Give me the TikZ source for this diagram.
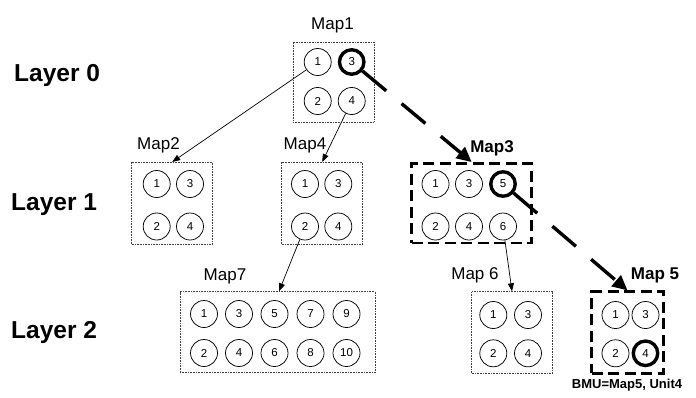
\documentclass[tikz,border=0pt]{standalone}
\usepackage{fontspec}
\setmainfont{Liberation Sans}
\usetikzlibrary{arrows.meta}
\begin{document}
\begin{tikzpicture}[x=1pt,y=-1pt,
  unit/.style={circle,draw,line width=0.75pt,minimum size=27pt,inner sep=0pt,font=\fontsize{11.5}{13}\selectfont},
  bmu/.style={unit,line width=3.4pt,minimum size=24.5pt},
  mapbox/.style={draw=black!75,line width=0.8pt,dash pattern=on 0.8pt off 0.8pt,inner sep=0pt},
  winbox/.style={draw,line width=2.6pt,dash pattern=on 11pt off 5.5pt,inner sep=0pt},
  maplabel/.style={font=\fontsize{17}{19}\selectfont,inner sep=0pt},
  winlabel/.style={font=\bfseries\fontsize{17}{19}\selectfont,inner sep=0pt},
  layerlabel/.style={font=\bfseries\fontsize{24.5}{27}\selectfont,anchor=west,inner sep=0pt},
  link/.style={line width=0.7pt,-{Triangle[length=8pt,width=6pt]}},
  winpath/.style={line width=3.4pt,dash pattern=on 31pt off 20pt,-{Triangle[length=15pt,width=14pt]}}
]
\useasboundingbox (0,0) rectangle (696,397);

% layer labels
\node[layerlabel] (l0) at (14,75) {Layer 0};
\node[layerlabel] (l1) at (11,205) {Layer 1};
\node[layerlabel] (l2) at (11,332) {Layer 2};

% Map1
\node[mapbox,minimum width=81pt,minimum height=80pt] (m1) at (333.5,82) {};
\node[maplabel] (m1l) at (332.5,25) {Map1};
\node[unit] (m1c1) at (317.7,62) {1};
\node[bmu]  (m1c3) at (351.7,62) {3};
\node[unit] (m1c2) at (317.7,101) {2};
\node[unit] (m1c4) at (351.7,101) {4};

% Map2
\node[mapbox,minimum width=81pt,minimum height=81.7pt] (m2) at (172.2,203.2) {};
\node[maplabel] (m2l) at (158.5,145) {Map2};
\node[unit] (m2c1) at (156.7,184) {1};
\node[unit] (m2c3) at (190,184) {3};
\node[unit] (m2c2) at (156.7,226.5) {2};
\node[unit] (m2c4) at (190,226.5) {4};

% Map4
\node[mapbox,minimum width=81pt,minimum height=81.7pt] (m4) at (322.2,203.2) {};
\node[maplabel] (m4l) at (305,145) {Map4};
\node[unit] (m4c1) at (305,184) {1};
\node[unit] (m4c3) at (338.3,184) {3};
\node[unit] (m4c2) at (305,226.5) {2};
\node[unit] (m4c4) at (338.3,226.5) {4};

% Map3
\node[winbox,minimum width=120pt,minimum height=79.7pt] (m3) at (471.7,203.2) {};
\node[winlabel] (m3l) at (492,148) {Map3};
\node[unit] (m3c1) at (435.5,184) {1};
\node[unit] (m3c3) at (469,184) {3};
\node[bmu]  (m3c5) at (503,184) {5};
\node[unit] (m3c2) at (435.5,226.5) {2};
\node[unit] (m3c4) at (469,226.5) {4};
\node[unit] (m3c6) at (503,226.5) {6};

% Map7
\node[mapbox,minimum width=195pt,minimum height=81pt] (m7) at (277.5,332.2) {};
\node[maplabel] (m7l) at (225,276.7) {Map7};
\node[unit] (m7c1) at (204,314) {1};
\node[unit] (m7c3) at (239,314) {3};
\node[unit] (m7c5) at (274.5,314) {5};
\node[unit] (m7c7) at (310.5,314) {7};
\node[unit] (m7c9) at (346.5,314) {9};
\node[unit] (m7c2) at (204,353) {2};
\node[unit] (m7c4) at (239,353) {4};
\node[unit] (m7c6) at (274.5,353) {6};
\node[unit] (m7c8) at (310.5,353) {8};
\node[unit] (m7c10) at (346.5,353) {10};

% Map 6
\node[mapbox,minimum width=80.6pt,minimum height=81.6pt] (m6) at (512,332.5) {};
\node[maplabel] (m6l) at (475,275) {Map 6};
\node[unit] (m6c1) at (493.3,315) {1};
\node[unit] (m6c3) at (528,315) {3};
\node[unit] (m6c2) at (493.3,353.3) {2};
\node[unit] (m6c4) at (528,353.3) {4};

% Map 5
\node[winbox,minimum width=71.6pt,minimum height=81.6pt] (m5) at (627.5,332.5) {};
\node[winlabel] (m5l) at (655,275) {Map 5};
\node[unit] (m5c1) at (615.5,315) {1};
\node[unit] (m5c3) at (645.5,315) {3};
\node[unit] (m5c2) at (615.5,353.3) {2};
\node[bmu]  (m5c4) at (645.5,353.3) {4};
\node[font=\bfseries\fontsize{13}{15}\selectfont,inner sep=0pt] (bmut) at (627,385) {BMU=Map5, Unit4};

% thin links
\draw[link] (m1c1) -- (m2.north);
\draw[link] (m1c4) -- (m4.north);
\draw[link] (m4c2) -- ([xshift=1.5pt]m7.north);
\draw[link] (m3c6) -- (m6.north);

% winner path
\draw[winpath] (m1c3) -- (m3.north);
\draw[winpath] (m3c5) -- (m5.north);
\end{tikzpicture}
\end{document}
